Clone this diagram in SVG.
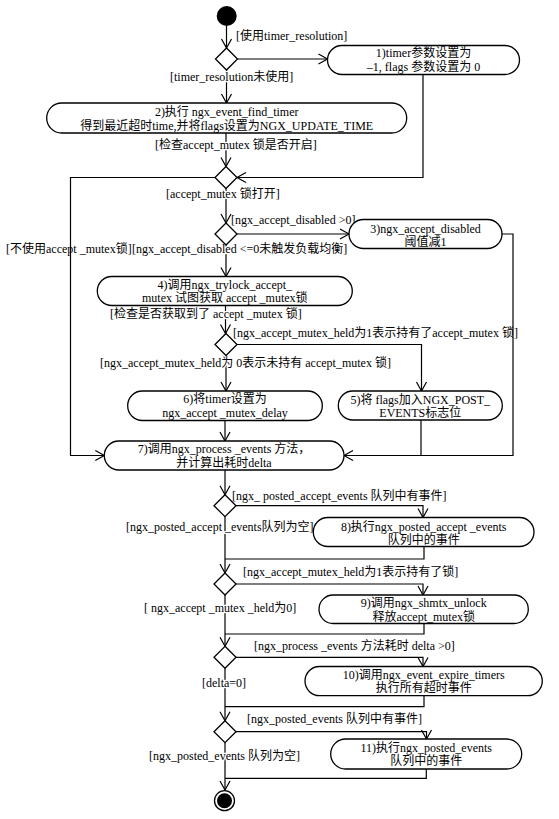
<svg xmlns="http://www.w3.org/2000/svg" width="559" height="819" viewBox="0 0 559 819">
<style>
.n{fill:#fff;stroke:#000;stroke-width:1.3}
.d{fill:#fff;stroke:#000;stroke-width:1.3}
.c{fill:none;stroke:#000;stroke-width:1.2}
.a{marker-end:url(#ah)}
text{font-family:"Liberation Serif","Noto Sans CJK SC",serif;font-size:12px;fill:#000}
.t{text-anchor:middle}
.g{paint-order:stroke;stroke:#fff;stroke-width:2.5;stroke-linejoin:round}
</style>
<defs>
<marker id="ah" markerUnits="userSpaceOnUse" viewBox="-11 -6 12 12" refX="0" refY="0" markerWidth="12" markerHeight="12" orient="auto" overflow="visible">
<path d="M-9,-5 L0,0 L-9,5" fill="none" stroke="#000" stroke-width="1.2"/>
</marker>
</defs>
<rect width="559" height="819" fill="#fff"/>

<g id="connectors">
<path class="c a" d="M226.5,26 V48"/>
<path class="c a" d="M237.5,59 H327.5"/>
<path class="c a" d="M226.5,70 V103"/>
<path class="c a" d="M423,74.5 V177.5 H237"/>
<path class="c a" d="M226,133 V166.5"/>
<path class="c a" d="M215,177.5 H70.5 V455.5 H104.3"/>
<path class="c a" d="M226,188.5 V223"/>
<path class="c a" d="M237,234 H349"/>
<path class="c a" d="M226,245 V276.5"/>
<path class="c a" d="M502,234 H513 V455.5 H344"/>
<path class="c a" d="M225.5,305.5 V333.5"/>
<path class="c a" d="M237,344.5 H421.5 V391"/>
<path class="c a" d="M226,355.5 V391"/>
<path class="c" d="M421,420 V455.5"/>
<path class="c a" d="M225,420.5 V441"/>
<path class="c a" d="M225,470 V494.7"/>
<path class="c a" d="M236,505.7 H423 V517.5"/>
<path class="c a" d="M225,516.7 V573"/>
<path class="c" d="M424,546.5 V559 H225"/>
<path class="c a" d="M236,584 H423 V595"/>
<path class="c a" d="M225,595 V646.3"/>
<path class="c" d="M424,623.5 V634 H225"/>
<path class="c a" d="M236,657.3 H423 V666.5"/>
<path class="c a" d="M225,668.3 V720.7"/>
<path class="c" d="M424,695.7 V706.7 H225"/>
<path class="c a" d="M236,731.7 H426.5 V739"/>
<path class="c a" d="M225,742.7 V790"/>
<path class="c" d="M426.3,769 V778.3 H225"/>

<text x="236" y="40">[使用timer_resolution]</text>
<text x="170" y="81" class="g">[timer_resolution未使用]</text>
<text x="155" y="149" class="g">[检查accept_mutex 锁是否开启]</text>
<text x="166" y="198" class="g">[accept_mutex 锁打开]</text>
<text x="231" y="224">[ngx_accept_disabled &gt;0]</text>
<text x="6" y="253">[不使用accept _mutex锁]</text>
<text x="132" y="253" class="g">[ngx_accept_disabled &lt;=0未触发负载均衡]</text>
<text x="110" y="318" class="g">[检查是否获取到了 accept _mutex 锁]</text>
<text x="233" y="337">[ngx_accept_mutex_held为1表示持有了accept_mutex 锁]</text>
<text x="100" y="367" class="g">[ngx_accept_mutex_held为 0表示未持有 accept_mutex 锁]</text>
<text x="232" y="500">[ngx_ posted_accept_events 队列中有事件]</text>
<text x="126" y="531" class="g">[ngx_posted_accept _events队列为空]</text>
<text x="243" y="576">[ngx_accept_mutex_held为1表示持有了锁]</text>
<text x="144" y="612" class="g">[ ngx_accept _mutex _held为0]</text>
<text x="254" y="650">[ngx_process _events 方法耗时 delta &gt;0]</text>
<text x="202" y="687" class="g">[delta=0]</text>
<text x="247" y="723">[ngx_posted_events 队列中有事件]</text>
<text x="149" y="760" class="g">[ngx_posted_events 队列为空]</text>
</g>

<g id="node-start"><circle cx="226.7" cy="16" r="10" fill="#000"/></g>

<g id="decision-1"><path class="d" d="M226.5,48 L237.5,59 L226.5,70 L215.5,59 Z"/></g>
<g id="decision-2"><path class="d" d="M226,166.5 L237,177.5 L226,188.5 L215,177.5 Z"/></g>
<g id="decision-3"><path class="d" d="M226,223 L237,234 L226,245 L215,234 Z"/></g>
<g id="decision-4"><path class="d" d="M226,333.5 L237,344.5 L226,355.5 L215,344.5 Z"/></g>
<g id="decision-5"><path class="d" d="M225,494.7 L236,505.7 L225,516.7 L214,505.7 Z"/></g>
<g id="decision-6"><path class="d" d="M225,573 L236,584 L225,595 L214,584 Z"/></g>
<g id="decision-7"><path class="d" d="M225,646.3 L236,657.3 L225,668.3 L214,657.3 Z"/></g>
<g id="decision-8"><path class="d" d="M225,720.7 L236,731.7 L225,742.7 L214,731.7 Z"/></g>

<g id="node-1">
<rect class="n" x="327.5" y="45.5" width="192" height="29" rx="14.5"/>
<text class="t" x="423.5" y="57">1)timer参数设置为</text>
<text class="t" x="423.5" y="70.5">–1, flags 参数设置为 0</text>
</g>
<g id="node-2">
<rect class="n" x="46.7" y="103" width="360" height="30" rx="15"/>
<text class="t" x="226.7" y="116">2)执行 ngx_event_find_timer</text>
<text class="t" x="226.7" y="129.5">得到最近超时time,并将flags设置为NGX_UPDATE_TIME</text>
</g>
<g id="node-3">
<rect class="n" x="349" y="219.5" width="153" height="29" rx="14.5"/>
<text class="t" x="425.5" y="232.5">3)ngx_accept_disabled</text>
<text class="t" x="425.5" y="246">阈值减1</text>
</g>
<g id="node-4">
<rect class="n" x="97.3" y="276.5" width="255" height="29" rx="14.5"/>
<text class="t" x="224.8" y="288.5">4)调用ngx_trylock_accept_</text>
<text class="t" x="224.8" y="302">mutex 试图获取 accept _mutex锁</text>
</g>
<g id="node-5">
<rect class="n" x="338.3" y="391" width="164" height="29" rx="14.5"/>
<text class="t" x="420.3" y="403.5">5)将 flags加入NGX_POST_</text>
<text class="t" x="420.3" y="417">EVENTS标志位</text>
</g>
<g id="node-6">
<rect class="n" x="127.7" y="391" width="194.6" height="29.5" rx="14.7"/>
<text class="t" x="225" y="403">6)将timer设置为</text>
<text class="t" x="225" y="417">ngx_accept _mutex_delay</text>
</g>
<g id="node-7">
<rect class="n" x="104.3" y="441" width="239.7" height="29" rx="14.5"/>
<text class="t" x="224" y="453">7)调用ngx_process _events 方法，</text>
<text class="t" x="224" y="466.5">并计算出耗时delta</text>
</g>
<g id="node-8">
<rect class="n" x="313.3" y="517.5" width="220.7" height="29" rx="14.5"/>
<text class="t" x="423.7" y="530.5">8)执行ngx_posted_accept _events</text>
<text class="t" x="423.7" y="544">队列中的事件</text>
</g>
<g id="node-9">
<rect class="n" x="319" y="595" width="209.3" height="28.5" rx="14.2"/>
<text class="t" x="423.7" y="606.5">9)调用ngx_shmtx_unlock</text>
<text class="t" x="423.7" y="620.5">释放accept_mutex锁</text>
</g>
<g id="node-10">
<rect class="n" x="305" y="666.5" width="237.3" height="29.2" rx="14.6"/>
<text class="t" x="423.7" y="679">10)调用ngx_event_expire_timers</text>
<text class="t" x="423.7" y="692">执行所有超时事件</text>
</g>
<g id="node-11">
<rect class="n" x="330.7" y="739" width="191" height="30" rx="15"/>
<text class="t" x="426.2" y="751.5">11)执行ngx_posted_events</text>
<text class="t" x="426.2" y="765">队列中的事件</text>
</g>

<g id="node-end">
<circle cx="224.5" cy="800.7" r="10" fill="#fff" stroke="#000" stroke-width="1.3"/>
<circle cx="224.5" cy="800.7" r="7.5" fill="#000"/>
</g>
</svg>
